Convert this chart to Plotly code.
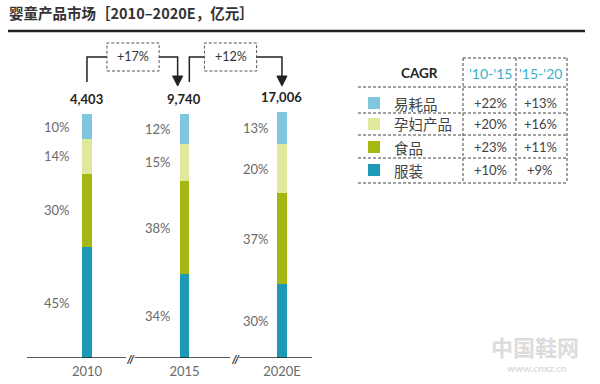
import plotly.graph_objects as go

# ---------------- data ----------------
years = ["2010", "2015", "2020E"]
totals = [4403, 9740, 17006]
segments = ["服装", "食品", "孕妇产品", "易耗品"]          # bottom -> top
share_apparel = [45, 34, 30]
share_food = [30, 38, 37]
share_maternity = [14, 15, 20]
share_consumables = [10, 12, 13]
period_cagr = ["+17%", "+12%"]
table_rows = ["易耗品", "孕妇产品", "食品", "服装"]
cagr_10_15 = ["+22%", "+20%", "+23%", "+10%"]
cagr_15_20 = ["+13%", "+16%", "+11%", "+9%"]
table_headers = ["'10-'15", "'15-'20"]

# ---------------- style ----------------
colors = {"服装": "#1c9ab5", "食品": "#a5b812", "孕妇产品": "#e0e89c", "易耗品": "#80c6de"}
W, H = 600, 384
MB = 26
PLOT_H = H - MB
FONT = "Lato, 'Noto Sans CJK SC', sans-serif"
CJK = "'Noto Sans CJK SC', sans-serif"

def PX(x):
    return x / W

def PY(y):
    return (PLOT_H - y) / PLOT_H

shares = {"服装": share_apparel, "食品": share_food,
          "孕妇产品": share_maternity, "易耗品": share_consumables}

fig = go.Figure()
for seg in segments:
    fig.add_trace(go.Bar(x=years, y=shares[seg], name=seg, width=0.1,
                         marker=dict(color=colors[seg], line=dict(width=0)),
                         showlegend=False, hoverinfo="skip"))

annotations = []
shapes = []

# percentage labels and totals (x given as category index)
label_shift = [-15, -11, -11]
for i, yr in enumerate(years):
    cum = 0
    for seg in segments:
        v = shares[seg][i]
        annotations.append(dict(x=i, y=cum + v / 2, xref="x", yref="y", text=f"{v}%",
                                showarrow=False, xanchor="right", yanchor="middle",
                                xshift=label_shift[i],
                                font=dict(family=FONT, size=13, color="#6a6a6a")))
        cum += v
    annotations.append(dict(x=i, y=cum, xref="x", yref="y", text=f"<b>{totals[i]:,}</b>",
                            showarrow=False, xanchor="center", yanchor="bottom", yshift=5,
                            font=dict(family=FONT, size=13, color="#222")))

# CAGR connectors between years
line_c = "#222"
for k, txt in enumerate(period_cagr):
    x0 = k
    box_l, box_r = k + 0.205, k + 0.74
    start_x = x0 + (0 if k == 0 else 0.05)
    end_x = k + 1 - (0.07 if k == 0 else 0.0)
    y_line = PY(57)
    shapes.append(dict(type="path", xref="x", yref="paper",
                       path=f"M {start_x},{PY(82)} L {start_x},{y_line} L {box_l},{y_line}",
                       line=dict(color=line_c, width=1.5)))
    shapes.append(dict(type="rect", xref="x", yref="paper", x0=box_l, x1=box_r,
                       y0=PY(71), y1=PY(43), line=dict(color="#555", width=1, dash="3px,2px")))
    shapes.append(dict(type="path", xref="x", yref="paper",
                       path=f"M {box_r},{y_line} L {end_x},{y_line} L {end_x},{PY(78)}",
                       line=dict(color=line_c, width=1.5)))
    hw = 0.052
    shapes.append(dict(type="path", xref="x", yref="paper",
                       path=f"M {end_x-hw},{PY(76)} L {end_x+hw},{PY(76)} L {end_x},{PY(86)} Z",
                       fillcolor=line_c, line=dict(color=line_c, width=1)))
    annotations.append(dict(x=(box_l + box_r) / 2, y=PY(57), xref="x", yref="paper",
                            text=txt, showarrow=False, xanchor="center", yanchor="middle",
                            font=dict(family=FONT, size=12.5, color="#333")))

# baseline with breaks
for a, b in [(-0.615, 0.40), (0.49, 1.47), (1.56, 2.31)]:
    shapes.append(dict(type="line", xref="x", yref="y", x0=a, x1=b, y0=0, y1=0,
                       line=dict(color="#222", width=1.5)))
for xb in [0.445, 1.515]:
    annotations.append(dict(x=xb, y=0, xref="x", yref="y", text="<b><i>//</i></b>",
                            showarrow=False, xanchor="center", yanchor="middle",
                            font=dict(family=FONT, size=11, color="#222")))

# title
annotations.append(dict(x=PX(7), y=PY(13), xref="paper", yref="paper",
                        text="<b>婴童产品市场［2010–2020E，亿元］</b>", showarrow=False,
                        xanchor="left", yanchor="middle",
                        font=dict(family=CJK, size=14.5, color="#333")))
shapes.append(dict(type="line", xref="paper", yref="paper", x0=PX(8), x1=PX(585),
                   y0=PY(31), y1=PY(31), line=dict(color="#222", width=2.5)))

# CAGR table
annotations.append(dict(x=PX(419), y=PY(73), xref="paper", yref="paper", text="<b>CAGR</b>",
                        showarrow=False, xanchor="center", yanchor="middle",
                        font=dict(family=FONT, size=13.5, color="#222")))
for j, hx in enumerate([490, 540]):
    annotations.append(dict(x=PX(hx), y=PY(73), xref="paper", yref="paper", text=table_headers[j],
                            showarrow=False, xanchor="center", yanchor="middle",
                            font=dict(family=FONT, size=14, color="#3aafc9")))
row_y = [103, 124, 147, 170]
for r, name in enumerate(table_rows):
    yy = row_y[r]
    shapes.append(dict(type="rect", xref="paper", yref="paper", x0=PX(368), x1=PX(380),
                       y0=PY(yy + 6), y1=PY(yy - 6), fillcolor=colors[name], line=dict(width=0)))
    annotations.append(dict(x=PX(392), y=PY(yy), xref="paper", yref="paper", text=name,
                            showarrow=False, xanchor="left", yanchor="middle",
                            font=dict(family=CJK, size=14.5, color="#444")))
    annotations.append(dict(x=PX(490), y=PY(yy), xref="paper", yref="paper", text=cagr_10_15[r],
                            showarrow=False, xanchor="center", yanchor="middle",
                            font=dict(family=FONT, size=13, color="#444")))
    annotations.append(dict(x=PX(540), y=PY(yy), xref="paper", yref="paper", text=cagr_15_20[r],
                            showarrow=False, xanchor="center", yanchor="middle",
                            font=dict(family=FONT, size=13, color="#444")))
dash = dict(color="#444", width=1, dash="3px,2px")
for hy in [87, 113, 135, 158, 183]:
    shapes.append(dict(type="line", xref="paper", yref="paper", x0=PX(358), x1=PX(567),
                       y0=PY(hy), y1=PY(hy), line=dash))
shapes.append(dict(type="line", xref="paper", yref="paper", x0=PX(463), x1=PX(567),
                   y0=PY(58), y1=PY(58), line=dash))
for vx in [463, 516, 567]:
    shapes.append(dict(type="line", xref="paper", yref="paper", x0=PX(vx), x1=PX(vx),
                       y0=PY(58), y1=PY(183), line=dash))

# watermark
annotations.append(dict(x=PX(535), y=PY(346), xref="paper", yref="paper", text="<b>中国鞋网</b>",
                        showarrow=False, xanchor="center", yanchor="middle",
                        font=dict(family=CJK, size=22, color="#dcdcdc")))
annotations.append(dict(x=PX(537), y=PY(368), xref="paper", yref="paper", text="<b>www.cnxz.cn</b>",
                        showarrow=False, xanchor="center", yanchor="middle",
                        font=dict(family=FONT, size=10, color="#dcdcdc")))

fig.update_layout(
    width=W, height=H, barmode="stack", bargap=0,
    paper_bgcolor="white", plot_bgcolor="white",
    margin=dict(l=0, r=0, t=0, b=MB),
    xaxis=dict(type="category", range=[-0.892, 5.262], showgrid=False, zeroline=False,
               showline=False, ticks="", ticklabelstandoff=4,
               tickfont=dict(family=FONT, size=13, color="#6a6a6a"),
               fixedrange=True),
    yaxis=dict(range=[0, PLOT_H / 2.46], visible=False, fixedrange=True),
    annotations=annotations, shapes=shapes, showlegend=False,
)

fig.write_html("out.html", config={"displayModeBar": False},
               post_script="document.body.style.margin='0px';")
